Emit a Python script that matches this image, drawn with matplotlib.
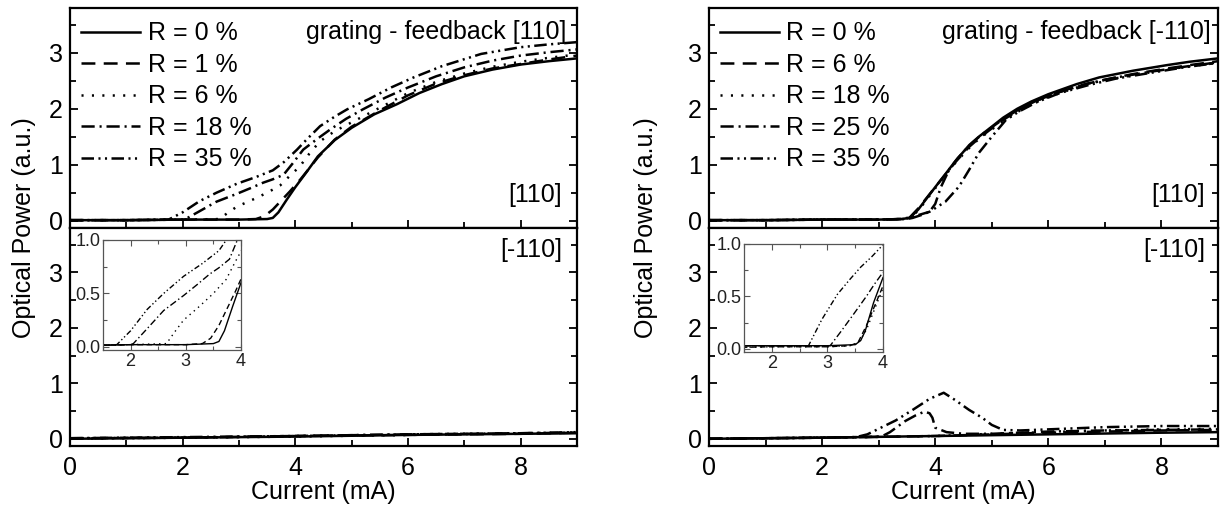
import numpy as np
import matplotlib
matplotlib.use("Agg")
import matplotlib.pyplot as plt
from matplotlib.ticker import MultipleLocator

plt.rcParams['font.family'] = ['Liberation Sans', 'DejaVu Sans']
plt.rcParams['lines.scale_dashes'] = False

# ---- left figure: grating feedback [110] ----
labels_L = ['R = 0 %', 'R = 1 %', 'R = 6 %', 'R = 18 %', 'R = 35 %']

# top panel, [110] polarisation
L_top_I0 = [0, 1, 2, 3, 3.5, 3.6, 3.7, 3.85, 4.0, 4.2, 4.4, 4.7, 5.0, 5.4, 5.8, 6.2, 6.6, 7.0, 7.5, 8.0, 8.5, 9.0]
L_top_P0 = [0.01, 0.01, 0.02, 0.02, 0.03, 0.05, 0.15, 0.38, 0.6, 0.87, 1.15, 1.44, 1.66, 1.9, 2.08, 2.28, 2.44, 2.58, 2.7, 2.79, 2.85, 2.9]
L_top_I1 = [0, 1, 2, 3, 3.3, 3.45, 3.6, 3.75, 3.9, 4.1, 4.4, 4.7, 5.0, 5.5, 6.0, 6.5, 7.0, 7.5, 8.0, 8.5, 9.0]
L_top_P1 = [0.01, 0.01, 0.02, 0.02, 0.03, 0.08, 0.2, 0.36, 0.52, 0.75, 1.13, 1.45, 1.68, 1.97, 2.24, 2.45, 2.6, 2.72, 2.8, 2.88, 2.95]
L_top_I6 = [0, 1, 2, 2.65, 2.8, 2.96, 3.25, 3.5, 3.73, 3.9, 4.08, 4.25, 4.44, 4.7, 5.1, 5.56, 6.0, 6.5, 7.0, 7.5, 8.0, 8.5, 9.0]
L_top_P6 = [0.01, 0.01, 0.02, 0.03, 0.14, 0.25, 0.38, 0.5, 0.63, 0.8, 0.97, 1.2, 1.42, 1.6, 1.81, 2.05, 2.28, 2.48, 2.63, 2.75, 2.84, 2.91, 2.97]
L_top_I18 = [0, 1, 2, 2.05, 2.3, 2.6, 2.96, 3.2, 3.43, 3.6, 3.79, 3.95, 4.14, 4.4, 4.62, 4.9, 5.2, 5.6, 6.0, 6.5, 7.0, 7.5, 8.0, 8.5, 9.0]
L_top_P18 = [0.01, 0.01, 0.02, 0.03, 0.17, 0.34, 0.48, 0.58, 0.68, 0.74, 0.82, 1.02, 1.27, 1.47, 1.63, 1.82, 1.99, 2.2, 2.38, 2.58, 2.74, 2.86, 2.95, 3.01, 3.06]
L_top_I35 = [0, 1, 1.75, 2.0, 2.3, 2.6, 2.96, 3.3, 3.6, 3.8, 4.03, 4.2, 4.44, 4.7, 4.92, 5.3, 5.7, 6.1, 6.6, 7.3, 8.0, 8.5, 9.0]
L_top_P35 = [0.01, 0.01, 0.02, 0.15, 0.35, 0.5, 0.66, 0.78, 0.9, 1.05, 1.27, 1.45, 1.69, 1.86, 1.99, 2.17, 2.38, 2.56, 2.76, 2.98, 3.1, 3.15, 3.19]

# bottom panel, [-110] polarisation
L_bot_I = [0, 2, 4, 6, 8, 9]
L_bot_P0 = [0.0, 0.02, 0.04, 0.07, 0.09, 0.10]
L_bot_P1 = [0.01, 0.02, 0.05, 0.07, 0.09, 0.11]
L_bot_P6 = [0.0, 0.02, 0.04, 0.07, 0.10, 0.11]
L_bot_P18 = [0.01, 0.02, 0.05, 0.08, 0.10, 0.11]
L_bot_P35 = [0.01, 0.03, 0.05, 0.08, 0.10, 0.12]

# ---- right figure: grating feedback [-110] ----
labels_R = ['R = 0 %', 'R = 6 %', 'R = 18 %', 'R = 25 %', 'R = 35 %']

R_top_I0 = [0, 1, 2, 3, 3.4, 3.55, 3.7, 3.85, 4.0, 4.2, 4.36, 4.6, 4.77, 5.0, 5.2, 5.45, 5.7, 6.0, 6.5, 6.9, 7.5, 8.1, 8.5, 9.0]
R_top_P0 = [0.01, 0.01, 0.02, 0.02, 0.03, 0.05, 0.2, 0.4, 0.6, 0.86, 1.07, 1.35, 1.5, 1.68, 1.84, 2.0, 2.13, 2.26, 2.44, 2.56, 2.68, 2.78, 2.84, 2.9]
R_top_P6 = [0.01, 0.01, 0.02, 0.02, 0.03, 0.06, 0.22, 0.41, 0.6, 0.85, 1.05, 1.32, 1.47, 1.65, 1.8, 1.96, 2.1, 2.23, 2.4, 2.5, 2.62, 2.72, 2.78, 2.85]
R_top_P18 = [0.01, 0.01, 0.02, 0.02, 0.03, 0.05, 0.18, 0.38, 0.58, 0.84, 1.04, 1.3, 1.46, 1.63, 1.78, 1.94, 2.08, 2.21, 2.38, 2.49, 2.6, 2.7, 2.76, 2.82]
R_top_I25 = [0, 1, 2, 3, 3.5, 3.6, 3.75, 3.9, 4.0, 4.1, 4.25, 4.4, 4.6, 4.8, 5.0, 5.25, 5.5, 5.8, 6.2, 6.7, 7.2, 7.8, 8.4, 9.0]
R_top_P25 = [0.01, 0.01, 0.02, 0.02, 0.03, 0.05, 0.1, 0.16, 0.3, 0.6, 0.92, 1.12, 1.34, 1.52, 1.67, 1.85, 2.0, 2.15, 2.3, 2.45, 2.56, 2.66, 2.75, 2.83]
R_top_I35 = [0, 1, 2, 3, 3.4, 3.6, 3.9, 4.18, 4.42, 4.6, 4.77, 5.0, 5.25, 5.48, 5.8, 6.2, 6.7, 7.2, 7.8, 8.4, 9.0]
R_top_P35 = [0.01, 0.01, 0.02, 0.02, 0.03, 0.07, 0.16, 0.34, 0.61, 0.91, 1.21, 1.5, 1.8, 1.95, 2.12, 2.28, 2.42, 2.54, 2.64, 2.74, 2.82]

R_bot_I = [0, 2, 4, 5, 6, 7, 8, 9]
R_bot_P0 = [0.0, 0.02, 0.05, 0.065, 0.08, 0.095, 0.11, 0.12]
R_bot_P6 = [0.0, 0.02, 0.05, 0.08, 0.11, 0.13, 0.15, 0.16]
R_bot_P18 = [0.0, 0.02, 0.05, 0.09, 0.12, 0.15, 0.17, 0.18]
R_bot_I25 = [0, 1, 2, 2.6, 3.05, 3.2, 3.47, 3.65, 3.81, 3.9, 3.95, 4.0, 4.2, 4.5, 5.0, 5.5, 6.0, 7.0, 8.0, 9.0]
R_bot_P25 = [0.0, 0.01, 0.02, 0.03, 0.04, 0.12, 0.32, 0.42, 0.49, 0.46, 0.38, 0.2, 0.12, 0.09, 0.09, 0.11, 0.13, 0.15, 0.16, 0.17]
R_bot_I35 = [0, 1, 2, 2.6, 2.8, 3.0, 3.3, 3.6, 3.9, 4.15, 4.35, 4.6, 4.83, 5.0, 5.2, 5.5, 6.0, 7.0, 8.0, 9.0]
R_bot_P35 = [0.0, 0.01, 0.02, 0.03, 0.08, 0.18, 0.33, 0.52, 0.72, 0.83, 0.7, 0.52, 0.38, 0.25, 0.16, 0.15, 0.17, 0.21, 0.23, 0.23]

# right inset (total power near threshold)
Rin_I0 = [1.5, 3.0, 3.5, 3.6, 3.68, 3.83, 4.0]
Rin_P0 = [0.03, 0.03, 0.04, 0.08, 0.17, 0.44, 0.68]
Rin_I25 = [1.5, 2.5, 3.05, 3.25, 3.47, 3.7, 3.85, 4.0]
Rin_P25 = [0.03, 0.03, 0.03, 0.17, 0.33, 0.5, 0.62, 0.73]
Rin_I35 = [1.5, 2.5, 2.66, 2.9, 3.18, 3.4, 3.6, 3.8, 3.96, 4.0]
Rin_P35 = [0.03, 0.03, 0.03, 0.28, 0.52, 0.66, 0.78, 0.88, 0.97, 1.0]

styles = ['-', (0, (10, 6)), (0, (1.5, 6)), (0, (9.5, 3.5, 1.5, 3.5)), (0, (9, 3.2, 1.5, 3.2, 1.5, 3.2))]
styles_small = ['-', (0, (4, 2.5)), (0, (1, 3)), (0, (5, 2, 1, 2)), (0, (4, 1.8, 1, 1.8, 1, 1.8))]

FS = 18
W, H = 1223, 505
fig = plt.figure(figsize=(W / 100, H / 100), dpi=100)


def px_axes(x0, y0, x1, y1):
    return fig.add_axes([x0 / W, 1 - y1 / H, (x1 - x0) / W, (y1 - y0) / H])


def style_main(ax, bottom_labels):
    ax.set_xlim(0, 9)
    ax.set_ylim(-0.13, 3.8)
    ax.xaxis.set_major_locator(MultipleLocator(2))
    ax.xaxis.set_minor_locator(MultipleLocator(1))
    ax.yaxis.set_major_locator(MultipleLocator(1))
    ax.yaxis.set_minor_locator(MultipleLocator(0.5))
    ax.tick_params(which='both', direction='in', top=False, right=True, labelsize=FS, width=1.3, pad=5)
    ax.tick_params(axis='x', which='both', pad=7)
    ax.tick_params(which='major', length=6)
    ax.tick_params(which='minor', length=4)
    if not bottom_labels:
        ax.tick_params(labelbottom=False)
    for s in ax.spines.values():
        s.set_linewidth(1.6)


def style_inset(ax):
    ax.set_xlim(1.5, 4)
    ax.set_ylim(-0.03, 1.0)
    ax.xaxis.set_major_locator(MultipleLocator(1))
    ax.xaxis.set_minor_locator(MultipleLocator(0.5))
    ax.yaxis.set_minor_locator(MultipleLocator(0.25))
    ax.set_yticks([0.0, 0.5, 1.0])
    ax.set_yticklabels(['0.0', '0.5', '1.0'])
    ax.tick_params(which='both', direction='in', top=True, right=True, labelsize=13,
                   labelcolor='#222222', color='#555555', width=0.8, pad=2)
    ax.tick_params(which='major', length=4)
    ax.tick_params(which='minor', length=3)
    for s in ax.spines.values():
        s.set_linewidth(0.9)
        s.set_color('#555555')


def add_legend(ax):
    ax.legend(loc='upper left', bbox_to_anchor=(0.0, 0.99), frameon=False, fontsize=FS,
              handlelength=2.35, handletextpad=0.3, labelspacing=0.3, borderaxespad=0.1, borderpad=0.35)


# ================= left =================
axLt = px_axes(70, 8, 577, 228)
axLb = px_axes(70, 228, 577, 446)

top_L = [(L_top_I0, L_top_P0), (L_top_I1, L_top_P1), (L_top_I6, L_top_P6),
         (L_top_I18, L_top_P18), (L_top_I35, L_top_P35)]
bot_L = [L_bot_P0, L_bot_P1, L_bot_P6, L_bot_P18, L_bot_P35]

for (I, P), ls, lab in zip(top_L, styles, labels_L):
    axLt.plot(I, P, color='k', lw=1.8, linestyle=ls, label=lab)
for P, ls in zip(bot_L, styles):
    axLb.plot(L_bot_I, P, color='k', lw=1.8, linestyle=ls)

style_main(axLt, False)
style_main(axLb, True)
add_legend(axLt)
axLt.text(0.98, 0.89, 'grating - feedback [110]', transform=axLt.transAxes, ha='right', va='center', fontsize=FS)
axLt.text(0.97, 0.15, '[110]', transform=axLt.transAxes, ha='right', va='center', fontsize=FS)
axLb.text(0.97, 0.9, '[-110]', transform=axLb.transAxes, ha='right', va='center', fontsize=FS)
axLb.set_xlabel('Current (mA)', fontsize=FS, labelpad=0.5)
fig.text(24 / W, 1 - 228 / H, 'Optical Power (a.u.)', rotation=90, ha='center', va='center', fontsize=FS)

axLi = px_axes(103, 240, 241, 350)
for (I, P), ls in zip(top_L, styles_small):
    axLi.plot(I, P, color='k', lw=1.0, linestyle=ls)
style_inset(axLi)

# ================= right =================
axRt = px_axes(709, 8, 1218, 228)
axRb = px_axes(709, 228, 1218, 446)

top_R = [(R_top_I0, R_top_P0), (R_top_I0, R_top_P6), (R_top_I0, R_top_P18),
         (R_top_I25, R_top_P25), (R_top_I35, R_top_P35)]
bot_R = [(R_bot_I, R_bot_P0), (R_bot_I, R_bot_P6), (R_bot_I, R_bot_P18),
         (R_bot_I25, R_bot_P25), (R_bot_I35, R_bot_P35)]

for (I, P), ls, lab in zip(top_R, styles, labels_R):
    axRt.plot(I, P, color='k', lw=1.8, linestyle=ls, label=lab)
for (I, P), ls in zip(bot_R, styles):
    axRb.plot(I, P, color='k', lw=1.8, linestyle=ls)

style_main(axRt, False)
style_main(axRb, True)
add_legend(axRt)
axRt.text(0.985, 0.89, 'grating - feedback [-110]', transform=axRt.transAxes, ha='right', va='center', fontsize=FS)
axRt.text(0.975, 0.15, '[110]', transform=axRt.transAxes, ha='right', va='center', fontsize=FS)
axRb.text(0.975, 0.9, '[-110]', transform=axRb.transAxes, ha='right', va='center', fontsize=FS)
axRb.set_xlabel('Current (mA)', fontsize=FS, labelpad=0.5)
fig.text(646 / W, 1 - 228 / H, 'Optical Power (a.u.)', rotation=90, ha='center', va='center', fontsize=FS)

axRi = px_axes(744, 244, 883, 352)
ins_R = [(Rin_I0, Rin_P0), (R_top_I0, R_top_P6), (R_top_I0, R_top_P18),
         (Rin_I25, Rin_P25), (Rin_I35, Rin_P35)]
for (I, P), ls in zip(ins_R, styles_small):
    axRi.plot(I, P, color='k', lw=1.0, linestyle=ls)
style_inset(axRi)

fig.savefig('out.png', dpi=100)
